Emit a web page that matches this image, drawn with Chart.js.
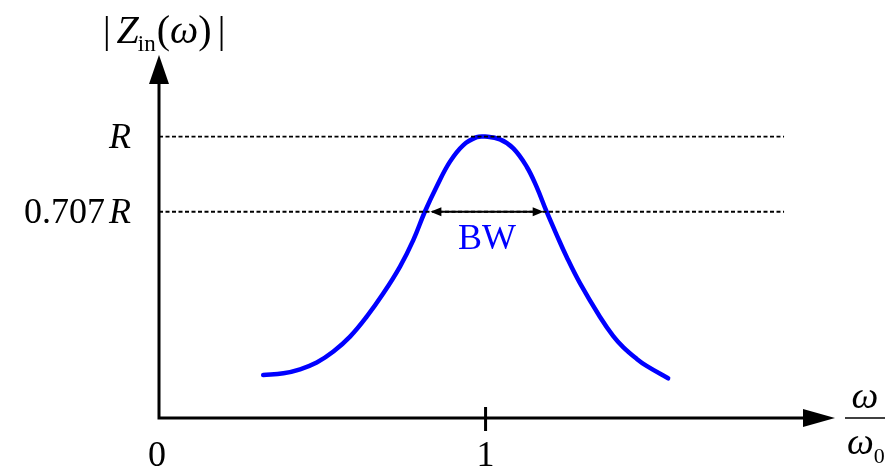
<!DOCTYPE html>
<html>
<head>
<meta charset="utf-8">
<script src="https://cdn.jsdelivr.net/npm/chart.js@4"></script>
<style>
  body { margin: 0; background: #fff; }
  #wrap { width: 889px; height: 469px; }
</style>
</head>
<body>
<div id="wrap"><canvas id="resonance" width="889" height="469"></canvas></div>
<script>
// normalised frequency w/w0 and |Zin| in units of R
const freq = [0.319, 0.381, 0.432, 0.483, 0.534, 0.585, 0.636, 0.687, 0.738, 0.779, 0.814, 0.850,
              0.891, 0.932, 0.973, 0.998, 1.044, 1.085, 1.126, 1.156, 1.187, 1.218, 1.248, 1.289,
              1.350, 1.391, 1.422, 1.463, 1.493, 1.559];
const mag  = [0.153, 0.159, 0.173, 0.197, 0.236, 0.289, 0.360, 0.443, 0.538, 0.633, 0.733, 0.822,
              0.911, 0.970, 0.998, 1.0, 0.990, 0.958, 0.893, 0.822, 0.733, 0.650, 0.573, 0.479,
              0.360, 0.291, 0.251, 0.210, 0.185, 0.141];

// dotted reference levels and their labels
const refLevels = [1, 0.733];
const refLabels = [['', 'R'], ['0.707', 'R']];
const refEnd = 1.914;

const xTicks = [0, 1];
const xTickLabels = ['0', '1'];

// half power band edges
const bwEdges = [0.831, 1.178];
const bwLevel = 0.733;

const SERIF = "'Liberation Serif', 'Times New Roman', serif";

const curve = freq.map((f, i) => ({ x: f, y: mag[i] }));
const refSets = refLevels.map(v => ({
  data: [{ x: 0, y: v }, { x: refEnd, y: v }],
  borderColor: '#000',
  borderWidth: 1.8,
  borderDash: [4, 2.5],
  pointRadius: 0,
  tension: 0
}));

function arrowHead(ctx, tipX, tipY, dx, dy, len, half) {
  // dx,dy = unit direction the arrow points to
  const bx = tipX - dx * len, by = tipY - dy * len;
  ctx.beginPath();
  ctx.moveTo(tipX, tipY);
  ctx.lineTo(bx - dy * half, by + dx * half);
  ctx.lineTo(bx + dy * half, by - dx * half);
  ctx.closePath();
  ctx.fill();
}

// draws pieces [text, style, size, dy, gapAfter] one after another
function runs(ctx, pieces, x, y) {
  let cx = x;
  pieces.forEach(p => {
    ctx.font = (p[1] || '') + ' ' + p[2] + 'px ' + SERIF;
    ctx.fillText(p[0], cx, y + (p[3] || 0));
    cx += ctx.measureText(p[0]).width + (p[4] || 0);
  });
  return cx - x;
}
function runsWidth(ctx, pieces) {
  let w = 0;
  pieces.forEach(p => {
    ctx.font = (p[1] || '') + ' ' + p[2] + 'px ' + SERIF;
    w += ctx.measureText(p[0]).width + (p[4] || 0);
  });
  return w;
}

const schematic = {
  id: 'schematic',
  afterDraw(chart) {
    const ctx = chart.ctx;
    const xs = chart.scales.x, ys = chart.scales.y;
    const x0 = xs.getPixelForValue(0), y0 = ys.getPixelForValue(0);
    const area = chart.chartArea;
    ctx.save();
    ctx.fillStyle = '#000';
    ctx.strokeStyle = '#000';
    ctx.textBaseline = 'alphabetic';

    // axes with arrows
    ctx.lineWidth = 3;
    ctx.beginPath();
    ctx.moveTo(x0, y0 + 1.5);
    ctx.lineTo(x0, area.top + 26);
    ctx.moveTo(x0 - 1.5, y0);
    ctx.lineTo(area.right - 30, y0);
    ctx.stroke();
    arrowHead(ctx, x0, area.top, 0, -1, 29, 10);
    arrowHead(ctx, area.right, y0, 1, 0, 32, 9);

    // tick mark at 1 and tick labels
    xTicks.forEach((t, i) => {
      const px = xs.getPixelForValue(t);
      if (t !== 0) {
        ctx.beginPath();
        ctx.moveTo(px, y0 - 11);
        ctx.lineTo(px, y0 + 13);
        ctx.stroke();
      }
      ctx.font = '36px ' + SERIF;
      ctx.textAlign = 'center';
      ctx.fillText(xTickLabels[i], px + (t === 0 ? -2 : 0), y0 + 48);
    });

    // y labels
    ctx.textAlign = 'left';
    refLevels.forEach((v, i) => {
      const py = ys.getPixelForValue(v) + 11;
      const pieces = [[refLabels[i][0], '', 36, 0, refLabels[i][0] ? 4 : 0], [refLabels[i][1], 'italic', 36]];
      const w = runsWidth(ctx, pieces);
      runs(ctx, pieces, x0 - 28 - w, py);
    });

    // y axis title |Zin(w)|
    runs(ctx, [['|', '', 38, 0, 6], ['Z', 'italic', 40, 0, -1], ['in', '', 23, 8, 1],
               ['(', '', 40], ['\u03c9', 'italic', 40], [')', '', 40, 0, 6], ['|', '', 38]], 103, 43);

    // x axis title w / w0
    const fx = 865;
    ctx.textAlign = 'center';
    ctx.font = 'italic 38px ' + SERIF;
    ctx.fillText('\u03c9', fx, y0 - 10);
    ctx.lineWidth = 1.5;
    ctx.beginPath();
    ctx.moveTo(845, y0);
    ctx.lineTo(885, y0);
    ctx.stroke();
    ctx.textAlign = 'left';
    runs(ctx, [['\u03c9', 'italic', 38], ['0', '', 22, 9]], 847, y0 + 36);

    // bandwidth arrow
    const ay = ys.getPixelForValue(bwLevel);
    const ax1 = xs.getPixelForValue(bwEdges[0]), ax2 = xs.getPixelForValue(bwEdges[1]);
    ctx.lineWidth = 2;
    ctx.beginPath();
    ctx.moveTo(ax1 + 8, ay);
    ctx.lineTo(ax2 - 8, ay);
    ctx.stroke();
    arrowHead(ctx, ax1, ay, -1, 0, 11, 4.5);
    arrowHead(ctx, ax2, ay, 1, 0, 11, 4.5);
    ctx.fillStyle = '#0000ff';
    ctx.textAlign = 'center';
    ctx.font = '36px ' + SERIF;
    ctx.fillText('BW', (ax1 + ax2) / 2, ay + 37);

    ctx.restore();
  }
};

new Chart(document.getElementById('resonance'), {
  type: 'line',
  data: {
    datasets: [
      ...refSets,
      {
        data: curve,
        borderColor: '#0000ff',
        borderWidth: 4.5,
        borderCapStyle: 'round',
        borderJoinStyle: 'round',
        pointRadius: 0,
        tension: 0.4
      }
    ]
  },
  options: {
    responsive: false,
    animation: false,
    layout: { padding: { left: 159, right: 54, top: 55, bottom: 51 } },
    plugins: { legend: { display: false }, tooltip: { enabled: false } },
    scales: {
      x: { type: 'linear', min: 0, max: 2.07, display: false },
      y: { type: 'linear', min: 0, max: 1.29, display: false }
    }
  },
  plugins: [schematic]
});
</script>
</body>
</html>
